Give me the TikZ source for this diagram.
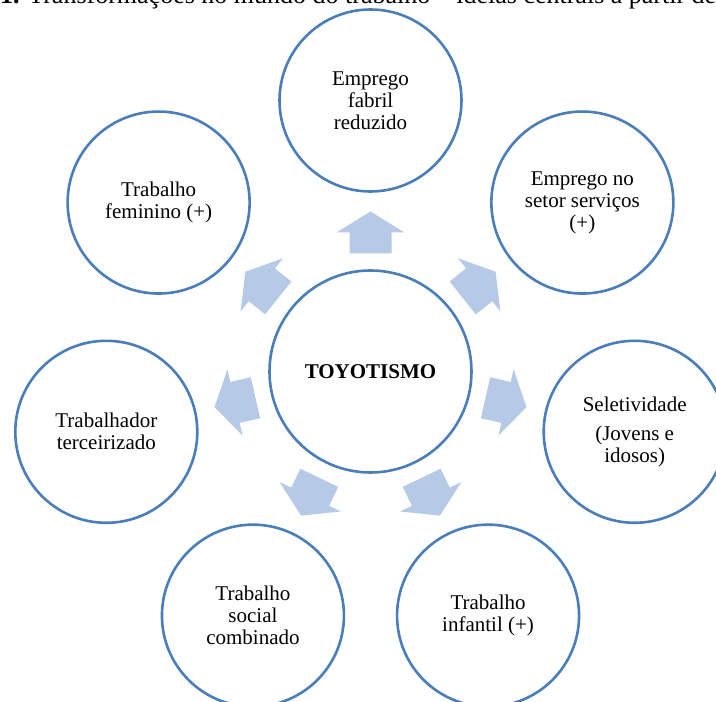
\documentclass[tikz,border=0pt]{standalone}
\usepackage{fontspec}
\setmainfont{Liberation Serif}
\definecolor{ringblue}{RGB}{74,126,187}
\definecolor{arrowblue}{RGB}{182,202,231}

\begin{document}
\begin{tikzpicture}[
    x=1pt, y=1pt,
    ring/.style={circle, draw=ringblue, line width=2.6pt, minimum size=182pt,
      inner sep=0pt, align=center, font=\fontsize{21}{22}\selectfont},
    hub/.style={ring, minimum size=202pt, font=\fontsize{21}{22}\selectfont\bfseries},
    blockarrow/.style={fill=arrowblue}
  ]

  \useasboundingbox (0,0) rectangle (716,702);
  \clip (0,0) rectangle (716,702);

  %% ---- Caption (cut at the top) ----
  \node[anchor=base west, inner sep=0pt, font=\fontsize{26}{29}\selectfont] (title) at (0,698)
    {\textbf{1.} Transformações no mundo do trabalho – ideias centrais a partir de};

  %% ---- Radial diagram ----
  \begin{scope}[shift={(370.5,330.5)}]
  % Hub
  \node[hub] (toyo) at (0,0) {TOYOTISMO};

  % Outer circles, 360/7 apart, starting at the top
  \node[ring] (fabril)   at (90:271)      {Emprego\\fabril\\reduzido};
  \node[ring] (servicos) at (38.571:271)  {Emprego no\\setor serviços\\(+)};
  \node[ring] (seletiv)  at (-12.857:271) {Seletividade\\[7pt](Jovens e\\idosos)};
  \node[ring] (infantil) at (-64.286:271) {Trabalho\\infantil (+)};
  \node[ring] (social)   at (-115.71:271) {Trabalho\\social\\combinado};
  \node[ring] (terceir)  at (-167.14:271) {Trabalhador\\terceirizado};
  \node[ring] (feminino) at (141.43:271)  {Trabalho\\feminino (+)};

  % Block arrows from the hub outwards
  \foreach \k [evaluate=\k as \a using 90+\k*360/7] in {0,...,6}
    \fill[blockarrow, rotate=\a-90] (-21,118) -- (-21,139) -- (-34,139) -- (0,160)
      -- (34,139) -- (21,139) -- (21,118) -- cycle;
  \end{scope}

\end{tikzpicture}
\end{document}
